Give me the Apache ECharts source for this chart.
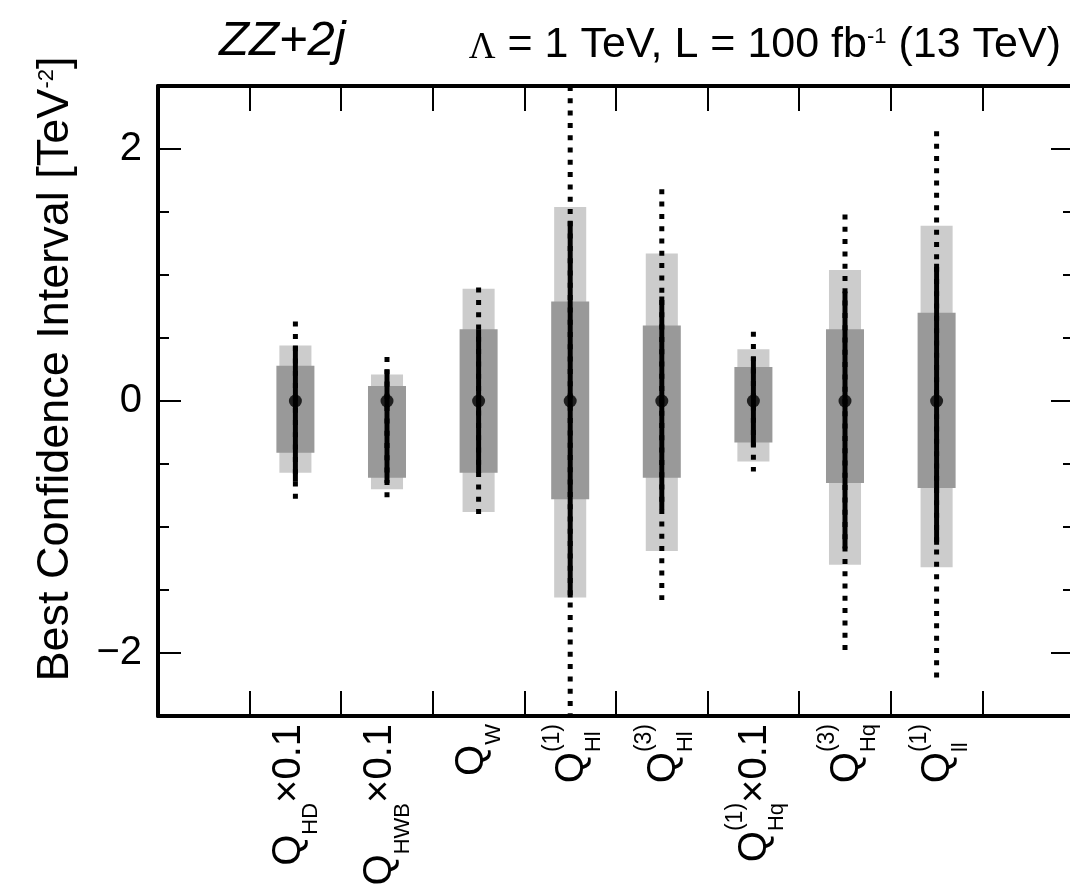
<!DOCTYPE html>
<html>
<head>
<meta charset="utf-8">
<title>ZZ+2j confidence intervals</title>
<style>
    html, body { margin: 0; padding: 0; background: #fff; }
    #chart { width: 1070px; height: 885px; }
</style>
<script src="https://cdn.jsdelivr.net/npm/echarts@6/dist/echarts.min.js"></script>
</head>
<body>
<div id="chart"></div>
<script>
// operators (empty slots at both ends keep the ticks of the frame)
var categories = ['', 'Q_HD x0.1', 'Q_HWB x0.1', 'Q_W', 'Q_Hl(1)', 'Q_Hl(3)', 'Q_Hq(1) x0.1', 'Q_Hq(3)', 'Q_ll(1)', ''];
var opBase = 'Q';
var opSub = ['HD', 'HWB', 'W', 'Hl', 'Hl', 'Hq', 'Hq', 'll'];
var opSup = ['', '', '', '(1)', '(3)', '(1)', '(3)', '(1)'];
var opScale = ['×0.1', '×0.1', '', '', '', '×0.1', '', ''];

var bestFit = [0, 0, 0, 0, 0, 0, 0, 0];
var ci95Low = [-0.57, -0.70, -0.88, -1.56, -1.19, -0.48, -1.30, -1.32];
var ci95High = [0.44, 0.21, 0.89, 1.54, 1.17, 0.41, 1.04, 1.39];
var ci68Low = [-0.41, -0.61, -0.57, -0.78, -0.61, -0.33, -0.65, -0.69];
var ci68High = [0.28, 0.12, 0.57, 0.79, 0.60, 0.27, 0.57, 0.70];
var solidLow = [-0.64, -0.65, -0.57, -1.56, -0.86, -0.36, -1.17, -1.14];
var solidHigh = [0.44, 0.25, 0.57, 1.43, 0.83, 0.35, 0.87, 1.09];
var dottedLow = [-0.83, -0.80, -0.90, -2.5, -1.58, -0.56, -2.03, -2.20];
var dottedHigh = [0.63, 0.35, 0.90, 2.5, 1.68, 0.55, 1.48, 2.14];

var yTickLabels = [-2, 0, 2];

var FONT = '"Liberation Sans", Arial, Helvetica, sans-serif';

var rangeData = function (lo, hi) {
    return lo.map(function (v, i) { return [i + 1, v, hi[i]]; });
};

var boxItem = function (frac, color) {
    return function (params, api) {
        var x = api.value(0);
        var top = api.coord([x, api.value(2)]);
        var bot = api.coord([x, api.value(1)]);
        var w = api.size([1, 0])[0] * frac;
        return {
            type: 'rect',
            shape: { x: top[0] - w / 2, y: top[1], width: w, height: bot[1] - top[1] },
            style: { fill: color }
        };
    };
};

var lineItem = function (width, dash) {
    return function (params, api) {
        var x = api.value(0);
        var p1 = api.coord([x, api.value(2)]);
        var p2 = api.coord([x, api.value(1)]);
        return {
            type: 'line',
            shape: { x1: p1[0], y1: p1[1], x2: p2[0], y2: p2[1] },
            style: { stroke: '#000', lineWidth: width, lineDash: dash, lineCap: 'butt' }
        };
    };
};

// sub is zero width so the superscript starts at the same place (stacked indices)
var xLabel = function (value, index) {
    var i = index - 1;
    if (i < 0 || i >= opSub.length) return '';
    if (opSup[i]) {
        return '{m2|' + opBase + '}{s2|' + opSub[i] + '}{p2|' + opSup[i] + '}' + (opScale[i] ? '{m2|' + opScale[i] + '}' : '');
    }
    return '{m|' + opBase + '}{s|' + opSub[i] + '}' + (opScale[i] ? '{m|' + opScale[i] + '}' : '');
};

var richTok = function (size, pad, extra) {
    var t = { fontFamily: FONT, fontSize: size, height: size, verticalAlign: 'top', align: 'left', padding: [pad, 0, 0, 0], color: '#000' };
    if (extra) { for (var k in extra) t[k] = extra[k]; }
    return t;
};

var xAxisBase = function (position, showLabel) {
    return {
        type: 'category',
        data: categories,
        position: position,
        boundaryGap: true,
        axisLine: { show: true, onZero: false, lineStyle: { color: '#000', width: 4 } },
        axisTick: { show: true, inside: true, length: 25, interval: 0, alignWithLabel: false, lineStyle: { color: '#000', width: 2 } },
        splitLine: { show: false },
        axisLabel: {
            show: showLabel,
            interval: 0,
            rotate: 90,
            margin: 8,
            color: '#000',
            fontFamily: FONT,
            formatter: xLabel,
            rich: {
                m: richTok(40, 0),
                s: richTok(22, 31.2),
                m2: richTok(40, 16.6),
                s2: richTok(22, 47.8, { width: 0 }),
                p2: richTok(23, 6)
            }
        }
    };
};

var yMinorAxis = function (position, showLabel) {
    var axis = {
        type: 'value',
        min: -2.5,
        max: 2.5,
        interval: 0.5,
        position: position,
        axisLine: { show: true, onZero: false, lineStyle: { color: '#000', width: 4 } },
        axisTick: { show: true, inside: true, length: 11, lineStyle: { color: '#000', width: 2 } },
        splitLine: { show: false },
        axisLabel: {
            show: showLabel,
            margin: 16,
            color: '#000',
            fontFamily: FONT,
            fontSize: 40,
            formatter: function (v) {
                return yTickLabels.indexOf(v) >= 0 ? String(v).replace('-', '\u2212') : '';
            }
        }
    };
    if (showLabel) {
        axis.name = '{a|Best Confidence Interval [TeV}{b|-2}{a|]}';
        axis.nameLocation = 'middle';
        axis.nameRotate = 90;
        axis.nameGap = 80;
        axis.nameTextStyle = {
            padding: [0, 0, 0, 64],
            rich: {
                a: { fontFamily: FONT, fontSize: 45, height: 45, verticalAlign: 'top', color: '#000' },
                b: { fontFamily: FONT, fontSize: 22, height: 22, verticalAlign: 'top', padding: [3, 0, 0, 0], color: '#000' }
            }
        };
    }
    return axis;
};

var yMajorAxis = function (position) {
    return {
        type: 'value',
        min: -2.5,
        max: 2.5,
        position: position,
        axisLine: { show: false },
        axisTick: { show: true, inside: true, length: 23, customValues: yTickLabels, lineStyle: { color: '#000', width: 2 } },
        axisLabel: { show: false },
        splitLine: { show: false }
    };
};

var chart = echarts.init(document.getElementById('chart'), null, { renderer: 'canvas' });

var option = {
    animation: false,
    backgroundColor: '#fff',
    title: [
        {
            text: 'ZZ+2j',
            left: 219,
            top: 14,
            padding: 0,
            textStyle: { fontFamily: FONT, fontSize: 49, fontStyle: 'italic', fontWeight: 'normal', color: '#000', lineHeight: 54 }
        },
        {
            text: '{g|\u039B}{t| = 1 TeV, L = 100 fb}{s|-1}{t| (13 TeV)}',
            right: 9,
            top: 23,
            padding: 0,
            textStyle: {
                fontWeight: 'normal',
                rich: {
                    t: { fontFamily: FONT, fontSize: 43, height: 44, verticalAlign: 'top', fontWeight: 'normal', color: '#000' },
                    g: { fontFamily: '"Liberation Serif", "Times New Roman", serif', fontSize: 37, height: 37, verticalAlign: 'top', padding: [6.4, 0, 0, 0], fontWeight: 'normal', color: '#000' },
                    s: { fontFamily: FONT, fontSize: 22, height: 22, verticalAlign: 'top', padding: [3, 0, 0, 0], fontWeight: 'normal', color: '#000' }
                }
            }
        }
    ],
    grid: { left: 158, right: -4, top: 86, bottom: 169, containLabel: false, outerBoundsMode: 'none' },
    xAxis: [xAxisBase('bottom', true), xAxisBase('top', false)],
    yAxis: [yMinorAxis('left', true), yMajorAxis('left'), yMinorAxis('right', false), yMajorAxis('right')],
    series: [
        { type: 'custom', name: '95% CL', clip: true, renderItem: boxItem(0.35, '#cccccc'), data: rangeData(ci95Low, ci95High), encode: { x: 0, y: [1, 2] } },
        { type: 'custom', name: '68% CL', clip: true, renderItem: boxItem(0.415, '#999999'), data: rangeData(ci68Low, ci68High), encode: { x: 0, y: [1, 2] } },
        { type: 'custom', name: 'dotted', clip: true, renderItem: lineItem(5, [5, 7.3]), data: rangeData(dottedLow, dottedHigh), encode: { x: 0, y: [1, 2] } },
        { type: 'custom', name: 'solid', clip: true, renderItem: lineItem(5, null), data: rangeData(solidLow, solidHigh), encode: { x: 0, y: [1, 2] } },
        {
            type: 'scatter',
            name: 'best fit',
            symbol: 'circle',
            symbolSize: 13,
            itemStyle: { color: '#000' },
            data: bestFit.map(function (v, i) { return [i + 1, v]; })
        }
    ]
};

chart.setOption(option);
window.addEventListener('resize', chart.resize);
</script>
</body>
</html>
